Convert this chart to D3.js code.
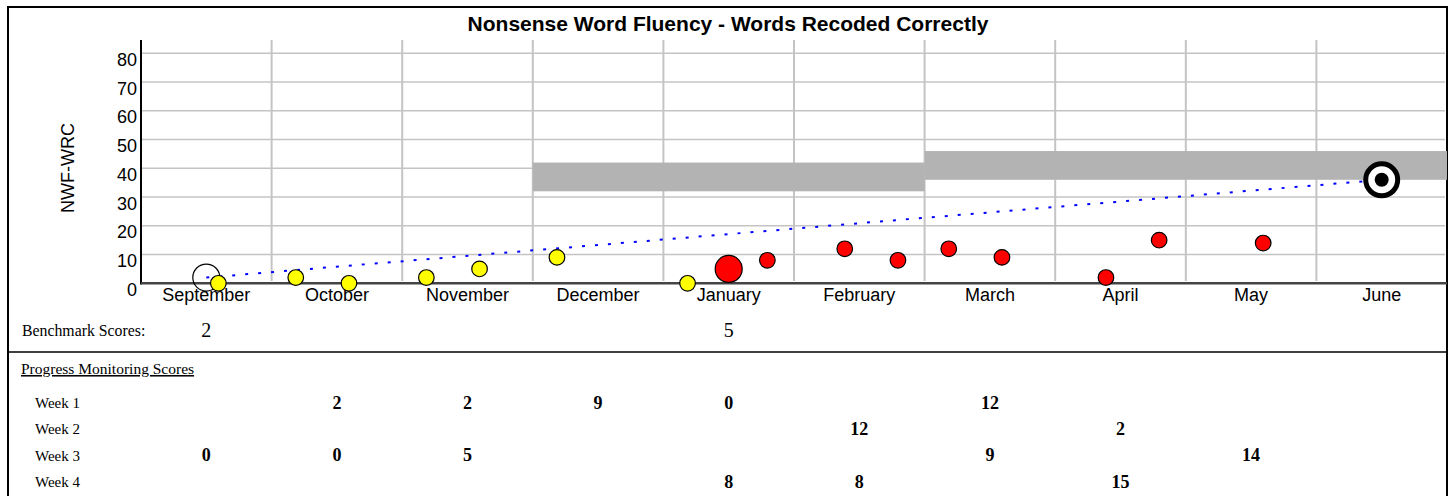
<!DOCTYPE html>
<html>
<head>
<meta charset="utf-8">
<script src="https://cdn.jsdelivr.net/npm/d3@7"></script>
<style>
  html, body { margin: 0; padding: 0; background: #fff; }
  svg { display: block; }
</style>
</head>
<body>
<svg id="chart" width="1454" height="496"></svg>
<script>
// ---------- DATA ----------
const months = ["September","October","November","December","January","February","March","April","May","June"];
const yTicks = [0,10,20,30,40,50,60,70,80];
const weekLabels = ["Week 1","Week 2","Week 3","Week 4"];

// benchmark scores (month index, value)
const benchMonth = [0, 4];
const benchValue = [2, 5];
const benchKind  = ["open", "red"];

// goal
const goalMonth = 9;
const goalValue = 36;

// benchmark target bands
const bandStart = [3, 6];
const bandEnd   = [6, 10];
const bandLow   = [32, 36];
const bandHigh  = [42, 46];

// progress monitoring scores
const pmMonth = [0, 1, 1, 2, 2, 3, 4, 4, 5, 5, 6, 6, 7, 7, 8];
const pmWeek  = [3, 1, 3, 1, 3, 1, 1, 4, 2, 4, 1, 3, 2, 4, 3];
const pmValue = [0, 2, 0, 2, 5, 9, 0, 8, 12, 8, 12, 9, 2, 15, 14];

// ---------- LAYOUT ----------
const svg = d3.select("#chart");
const x = d3.scaleLinear().domain([0, 10]).range([141, 1447]);
const y = d3.scaleLinear().domain([0, 80]).range([283.3, 53.3]);
const weekPos = d3.scaleLinear().domain([1, 4]).range([0.185, 0.796]);
const gridTop = 40;
const sans = "Arial, 'Liberation Sans', sans-serif";
const serif = "'Times New Roman', 'Liberation Serif', serif";

// outer frame
svg.append("rect").attr("x", 8).attr("y", 7).attr("width", 1439).attr("height", 520)
  .attr("fill", "none").attr("stroke", "#000").attr("stroke-width", 2);
svg.append("line").attr("x1", 8).attr("x2", 1447).attr("y1", 352).attr("y2", 352)
  .attr("stroke", "#000").attr("stroke-width", 1.5);

// title
svg.append("text").attr("x", 728).attr("y", 31).attr("text-anchor", "middle")
  .attr("font-family", sans).attr("font-weight", "bold").attr("font-size", 21)
  .text("Nonsense Word Fluency - Words Recoded Correctly");

// horizontal grid
svg.append("g").selectAll("line").data(yTicks.filter(d => d > 0)).join("line")
  .attr("x1", 142).attr("x2", 1445)
  .attr("y1", d => y(d)).attr("y2", d => y(d))
  .attr("stroke", "#c4c4c4").attr("stroke-width", 1.5);

// vertical grid
svg.append("g").selectAll("line").data(d3.range(1, 10)).join("line")
  .attr("x1", d => x(d)).attr("x2", d => x(d))
  .attr("y1", gridTop).attr("y2", 281)
  .attr("stroke", "#c4c4c4").attr("stroke-width", 2);

// benchmark bands
svg.append("g").selectAll("rect").data(bandStart).join("rect")
  .attr("x", (d, i) => x(d)).attr("width", (d, i) => x(bandEnd[i]) - x(d))
  .attr("y", (d, i) => y(bandHigh[i])).attr("height", (d, i) => y(bandLow[i]) - y(bandHigh[i]))
  .attr("fill", "#b3b3b3");

// y axis
const yAxis = d3.axisLeft(y).tickValues(yTicks).tickSize(0).tickPadding(4);
const gy = svg.append("g").attr("transform", "translate(141,0)").call(yAxis);
gy.select(".domain").remove();
gy.selectAll("text").attr("font-family", sans).attr("font-size", 18).attr("fill", "#000")
  .attr("dy", "0.95em").attr("y", -5);
svg.append("line").attr("x1", 141).attr("x2", 141).attr("y1", gridTop).attr("y2", 284.5)
  .attr("stroke", "#000").attr("stroke-width", 2);

// x axis line
svg.append("line").attr("x1", 141).attr("x2", 1447).attr("y1", y(0)).attr("y2", y(0))
  .attr("stroke", "#444").attr("stroke-width", 2.5);

// month labels via axis
const xm = d3.scaleBand().domain(months).range([141, 1447]);
const gx = svg.append("g").attr("transform", "translate(0,283.3)")
  .call(d3.axisBottom(xm).tickSize(0).tickPadding(0));
gx.select(".domain").remove();
gx.selectAll("text").attr("font-family", sans).attr("font-size", 18).attr("fill", "#000")
  .attr("y", 18).attr("dy", 0);

// y axis title
svg.append("text").attr("transform", "translate(74,168) rotate(-90)")
  .attr("text-anchor", "middle").attr("font-family", sans).attr("font-size", 18)
  .text("NWF-WRC");

// aim line
svg.append("line")
  .attr("x1", x(benchMonth[0] + 0.5)).attr("y1", y(benchValue[0]))
  .attr("x2", x(goalMonth + 0.5)).attr("y2", y(goalValue))
  .attr("stroke", "#0000ff").attr("stroke-width", 2).attr("stroke-dasharray", "3,10");

// benchmark points
const benchX = benchMonth.map(m => x(m + 0.5));
svg.append("g").selectAll("circle").data(benchMonth).join("circle")
  .attr("cx", (d, i) => benchX[i]).attr("cy", (d, i) => y(benchValue[i]))
  .attr("r", 13.5)
  .attr("fill", (d, i) => benchKind[i] === "open" ? "none" : "#ff0000")
  .attr("stroke", "#000").attr("stroke-width", 1.2);

// progress monitoring points
const winterX = benchX[1];
svg.append("g").selectAll("circle").data(pmValue).join("circle")
  .attr("cx", (d, i) => x(pmMonth[i] + weekPos(pmWeek[i])))
  .attr("cy", d => y(d))
  .attr("r", 7.8)
  .attr("fill", (d, i) => x(pmMonth[i] + weekPos(pmWeek[i])) < winterX ? "#ffff00" : "#ff0000")
  .attr("stroke", "#000").attr("stroke-width", 1.2);

// goal marker
const gxp = x(goalMonth + 0.5), gyp = y(goalValue);
svg.append("circle").attr("cx", gxp).attr("cy", gyp).attr("r", 16)
  .attr("fill", "#fff").attr("stroke", "#000").attr("stroke-width", 5);
svg.append("circle").attr("cx", gxp).attr("cy", gyp).attr("r", 7)
  .attr("fill", "#000");

// benchmark score row
svg.append("text").attr("x", 22).attr("y", 336).attr("font-family", serif).attr("font-size", 15.8)
  .text("Benchmark Scores:");
svg.append("g").selectAll("text").data(benchValue).join("text")
  .attr("x", (d, i) => benchX[i]).attr("y", 337).attr("text-anchor", "middle")
  .attr("font-family", serif).attr("font-size", 20).text(d => d);

// progress monitoring table
svg.append("text").attr("x", 21).attr("y", 374).attr("font-family", serif).attr("font-size", 15.5)
  .attr("text-decoration", "underline").text("Progress Monitoring Scores");
const rowY = d3.scalePoint().domain([1, 2, 3, 4]).range([408, 487]);
svg.append("g").selectAll("text").data(weekLabels).join("text")
  .attr("x", 35).attr("y", (d, i) => rowY(i + 1)).attr("font-family", serif).attr("font-size", 15)
  .text(d => d);
svg.append("g").selectAll("text").data(pmValue).join("text")
  .attr("x", (d, i) => x(pmMonth[i] + 0.5)).attr("y", (d, i) => rowY(pmWeek[i]) + 0.5)
  .attr("text-anchor", "middle").attr("font-family", serif).attr("font-weight", "bold")
  .attr("font-size", 18).text(d => d);
</script>
</body>
</html>
